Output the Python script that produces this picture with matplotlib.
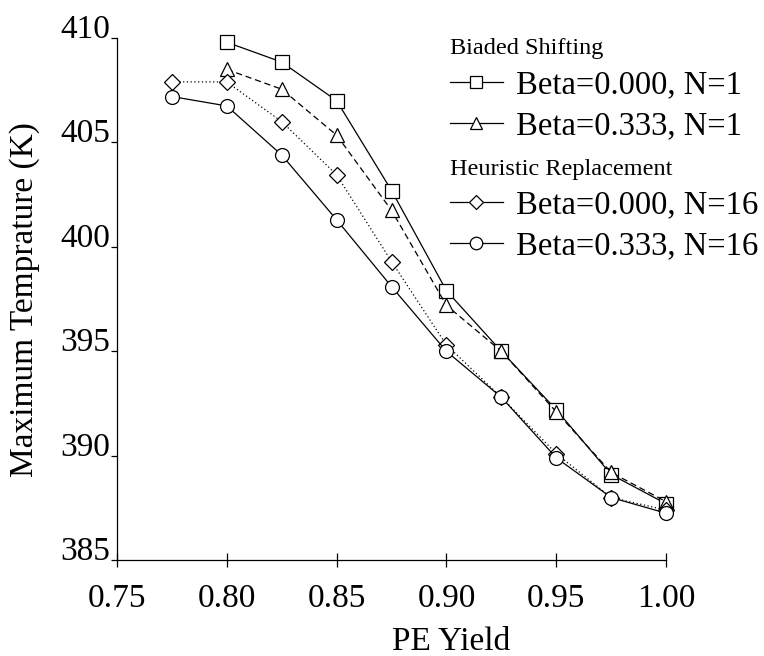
import matplotlib.pyplot as plt
from matplotlib.lines import Line2D

# PE yield vs maximum temperature, four strategies
yield_n1 = [0.800, 0.825, 0.850, 0.875, 0.900, 0.925, 0.950, 0.975, 1.000]
yield_n16 = [0.775, 0.800, 0.825, 0.850, 0.875, 0.900, 0.925, 0.950, 0.975, 1.000]

temp_b0_n1 = [409.8, 408.85, 407.0, 402.7, 397.9, 395.0, 392.2, 389.1, 387.7]
temp_b3_n1 = [408.5, 407.55, 405.35, 401.75, 397.2, 395.0, 392.1, 389.2, 387.8]
temp_b0_n16 = [407.9, 407.9, 406.0, 403.45, 399.3, 395.3, 392.8, 390.1, 388.0, 387.4]
temp_b3_n16 = [407.2, 406.75, 404.4, 401.3, 398.1, 395.0, 392.8, 389.9, 388.0, 387.25]

x_ticks = [0.75, 0.80, 0.85, 0.90, 0.95, 1.00]
y_ticks = [385, 390, 395, 400, 405, 410]

plt.rcParams['font.family'] = ['Liberation Serif', 'DejaVu Serif']

fig = plt.figure(figsize=(7.64, 6.56), dpi=100)
ax = fig.add_axes([0.153, 0.146, 0.719, 0.796])

mk = dict(color='black', lw=0.9, mfc='white', mec='black', mew=0.9, clip_on=False)
ax.plot(yield_n1, temp_b0_n1, ls='-', marker='s', ms=10, **mk)
ax.plot(yield_n1, temp_b3_n1, ls=(0, (5, 3)), marker='^', ms=10, **mk)
ax.plot(yield_n16, temp_b0_n16, ls=(0, (1, 2)), marker='D', ms=8, **mk)
ax.plot(yield_n16, temp_b3_n16, ls='-', marker='o', ms=10, **mk)

ax.set_xlim(0.75, 1.00)
ax.set_ylim(385, 410)
ax.set_xticks(x_ticks)
ax.set_xticklabels([f"{v:.2f}" for v in x_ticks])
ax.set_yticks(y_ticks)
ax.set_yticklabels([str(v) for v in y_ticks])
for lbl in ax.get_yticklabels():
    lbl.set_va('baseline')

ax.spines['top'].set_visible(False)
ax.spines['right'].set_visible(False)
ax.spines['left'].set_linewidth(0.9)
ax.spines['bottom'].set_linewidth(0.9)
ax.tick_params(axis='x', direction='inout', length=10, width=0.9, pad=12, labelsize=24)
ax.tick_params(axis='y', direction='out', length=4, width=0.9, pad=1, labelsize=24)

ax.set_xlabel("PE Yield", fontsize=24)
ax.xaxis.set_label_coords(0.609, -0.127)
ax.set_ylabel("Maximum Temprature (K)", fontsize=24)
ax.yaxis.set_label_coords(-0.14, 0.5)

def handle(marker, ms):
    return Line2D([], [], ls='-', marker=marker, ms=ms, color='black', lw=0.9,
                  mfc='white', mec='black', mew=0.9)

leg_kw = dict(frameon=False, fontsize=23.5, title_fontsize=17.5, alignment='left',
              handlelength=1.6, handletextpad=0.42, labelspacing=0.32, borderpad=0,
              borderaxespad=0, loc='upper left')
leg1 = ax.legend([handle('s', 9), handle('^', 9)],
                 ["Beta=0.000, N=1", "Beta=0.333, N=1"],
                 title="Biaded Shifting", bbox_to_anchor=(0.607, 1.0), **leg_kw)
ax.add_artist(leg1)
ax.legend([handle('D', 7), handle('o', 9)],
          ["Beta=0.000, N=16", "Beta=0.333, N=16"],
          title="Heuristic Replacement", bbox_to_anchor=(0.607, 0.769), **leg_kw)

fig.savefig("out.png", dpi=100)
